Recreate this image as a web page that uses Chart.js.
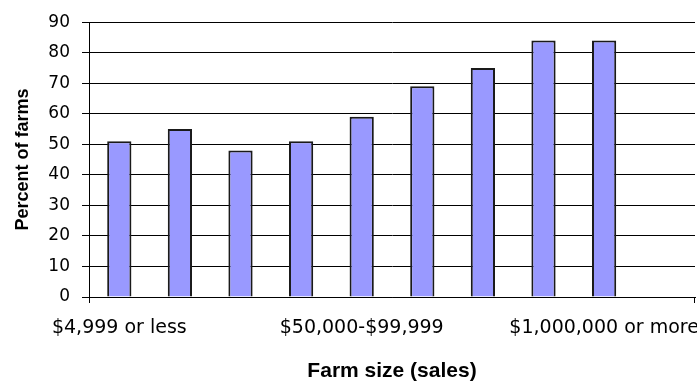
<!DOCTYPE html>
<html>
<head>
<meta charset="utf-8">
<script src="https://cdn.jsdelivr.net/npm/chart.js@4/dist/chart.umd.min.js"></script>
<style>
  html, body { margin: 0; padding: 0; background: #fff; }
  #wrap { width: 697px; height: 385px; }
</style>
</head>
<body>
<div id="wrap"><canvas id="c" width="697" height="385"></canvas></div>
<script>
// Farm size classes (annual sales); the last slot is an empty spacer
const salesClasses = [
  '$4,999 or less', '$5,000-$9,999', '$10,000-$24,999', '$25,000-$49,999',
  '$50,000-$99,999', '$100,000-$249,999', '$250,000-$499,999',
  '$500,000-$999,999', '$1,000,000 or more', ''
];
// Percent of farms in each class
const percentOfFarms = [51, 55, 48, 51, 59, 69, 75, 84, 84, null];
// Y axis range and step
const yTicks = { min: 0, max: 90, step: 10 };
// Every fourth class name is printed under the axis
const labelEvery = 4;

const tickFont = { family: '"DejaVu Sans", sans-serif', size: 17 };
const xTickFont = { family: '"DejaVu Sans", sans-serif', size: 19 };

new Chart(document.getElementById('c'), {
  type: 'bar',
  data: {
    labels: salesClasses,
    datasets: [{
      data: percentOfFarms,
      backgroundColor: '#9999FF',
      borderColor: '#1a1a1a',
      borderWidth: 2,
      barPercentage: 0.4,
      categoryPercentage: 1.0
    }]
  },
  options: {
    responsive: false,
    animation: false,
    layout: { padding: { top: 19, right: 2, bottom: 0, left: 0 } },
    plugins: { legend: { display: false }, tooltip: { enabled: false } },
    scales: {
      x: {
        offset: true,
        afterFit: (s) => { s.height = 88; },
        grid: {
          drawOnChartArea: false,
          drawTicks: true,
          tickLength: 6,
          color: (c) => (c.type === 'scale' || c.index === 0) ? '#000' : 'rgba(0,0,0,0)'
        },
        border: { display: true, color: '#000', width: 1 },
        ticks: {
          autoSkip: false,
          maxRotation: 0,
          minRotation: 0,
          padding: 14,
          color: '#000',
          font: xTickFont,
          callback: function (v, i) { return i % labelEvery === 0 ? this.getLabelForValue(v) : ''; }
        },
        title: {
          display: true,
          text: 'Farm size (sales)',
          color: '#000',
          font: { family: '"Liberation Sans", Arial, sans-serif', size: 21, weight: 'bold' },
          padding: { top: 0, bottom: 1 }
        }
      },
      y: {
        min: yTicks.min,
        max: yTicks.max,
        afterFit: (s) => { s.width = 89; },
        grid: { color: '#000', lineWidth: 1, drawTicks: true, tickLength: 7 },
        border: { display: true, color: '#000', width: 1 },
        ticks: {
          stepSize: yTicks.step,
          padding: 12,
          color: '#000',
          font: tickFont
        },
        title: {
          display: true,
          text: 'Percent of farms',
          color: '#000',
          font: { family: '"Liberation Sans", Arial, sans-serif', size: 18, weight: 'bold' },
          padding: { top: 12, bottom: 0 }
        }
      }
    }
  }
});
</script>
</body>
</html>
